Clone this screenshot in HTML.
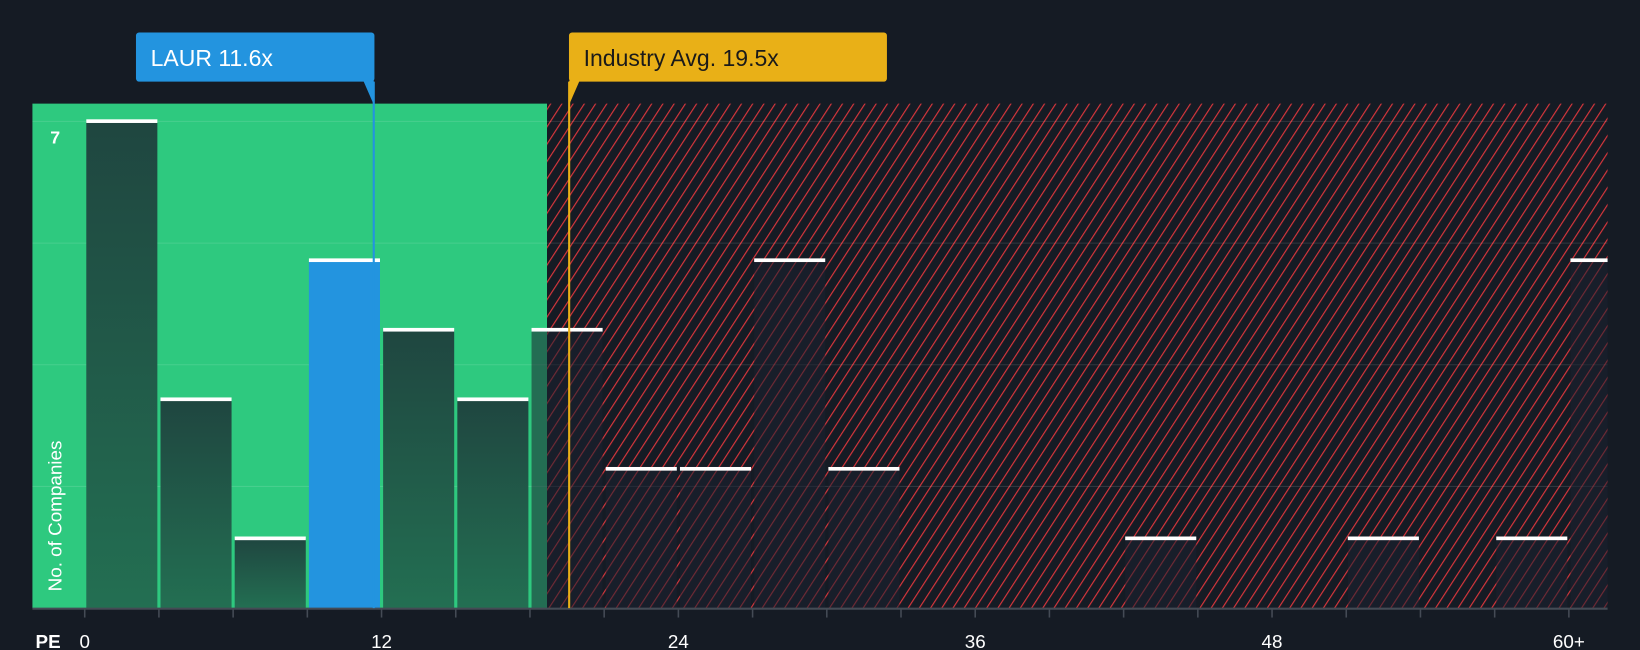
<!DOCTYPE html>
<html><head><meta charset="utf-8"><style>
html,body{margin:0;padding:0;background:#151b24;}
svg{display:block;font-family:"Liberation Sans",sans-serif;}
</style></head><body>
<svg width="1640" height="650" viewBox="0 0 1568 621" preserveAspectRatio="none" id="chart">
<defs>
<pattern id="hatch" patternUnits="userSpaceOnUse" width="9" height="9" patternTransform="rotate(33)">
<rect width="9" height="9" fill="#151b24"/>
<line x1="0" y1="0" x2="0" y2="9" stroke="#d9363c" stroke-width="2.2"/>
</pattern>
<linearGradient id="gbar" x1="0" y1="0" x2="0" y2="1">
<stop offset="0" stop-color="#1f4640"/><stop offset="1" stop-color="#236f52"/>
</linearGradient>
</defs>
<rect width="1568" height="621" fill="#151b24"/>
<rect x="31" y="99" width="492" height="482" fill="#2ec97f"/>
<rect x="523" y="99" width="1014" height="482" fill="url(#hatch)"/>
<g id="grid"></g>
<g id="bars"></g>
<line x1="31" y1="581.5" x2="1537" y2="581.5" stroke="#444b55" stroke-width="2"/>
<g id="ticks"></g>
<text transform="translate(59,565) rotate(-90)" fill="#fff" font-size="18">No. of Companies</text>
<text x="48" y="137" fill="#fff" font-size="17" font-weight="bold">7</text>
<text x="34" y="619" fill="#fff" font-size="18" font-weight="bold">PE</text>
<g id="markers"></g>
</svg>
<script>
const binStarts=[0,3,6,9,12,15,18,21,24,27,30,33,36,39,42,45,48,51,54,57,60];
const counts=[7,3,1,5,4,3,4,2,2,5,2,0,0,0,1,0,0,1,0,1,5];
const xTicks=[0,12,24,36,48,60];
const xTickLabels=["0","12","24","36","48","60+"];
const gridVals=[1.75,3.5,5.25,7];
const companyPE=11.6, companyLabel="LAUR 11.6x";
const industryPE=19.5, industryLabel="Industry Avg. 19.5x";
const NS="http://www.w3.org/2000/svg";
const x=v=>81+v*23.65, y=v=>581-v*66.43, cut=523;
function mk(t,a,p){const e=document.createElementNS(NS,t);for(const k in a)e.setAttribute(k,a[k]);p.appendChild(e);return e;}
const g=document.getElementById('grid');
gridVals.forEach(v=>{const l=mk('line',{x1:31,x2:1537,y1:y(v),y2:y(v),stroke:'rgba(255,255,255,0.12)','stroke-width':1},g);

});
const b=document.getElementById('bars');
binStarts.forEach((s,i)=>{const c=counts[i];if(!c)return;
const x0=x(s)+1.5,x1=Math.min(x(s+3)-1.5,1537);const top=y(c);
const isCo=companyPE>=s&&companyPE<s+3;
const inRed=x0>=cut-20;
const r=mk('rect',{x:x0,y:top,width:x1-x0,height:581-top,fill:isCo?'#2394df':(inRed?'rgba(28,32,48,0.55)':'url(#gbar)')},b);


const cap=mk('rect',{x:x0,y:top-2,width:x1-x0,height:3.5,fill:'#fff'},b);

});
const t=document.getElementById('ticks');
for(let s=0;s<=60;s+=3){const l=mk('line',{x1:x(s),x2:x(s),y1:582,y2:590,stroke:'#444b55','stroke-width':1.5},t);

}
xTicks.forEach((v,i)=>{const tx=mk('text',{x:x(v),y:619,fill:'#fff','font-size':18,'text-anchor':'middle'},t);tx.textContent=xTickLabels[i];

});
const m=document.getElementById('markers');
function marker(v,label,col,txtcol,bx,bw,name){const px=x(v)+2;
const ln=mk('line',{x1:px,x2:px,y1:78,y2:581,stroke:col,'stroke-width':2},m);


const bxr=mk('rect',{x:bx,y:31,width:bw,height:47,rx:3,fill:col},m);


const tip=mk('path',{d:bx<px-50?`M${px-10},77 L${px},77 L${px},100 Z`:`M${px},77 L${px+10},77 L${px},100 Z`,fill:col},m);


const tx=mk('text',{x:bx+14,y:63,fill:txtcol,'font-size':22},m);tx.textContent=label;

}
marker(companyPE,companyLabel,'#2394df','#fff',130,228,'company-pe');
marker(industryPE,industryLabel,'#e9b017','#1a1a1a',544,304,'industry-avg');
</script>
</body></html>
